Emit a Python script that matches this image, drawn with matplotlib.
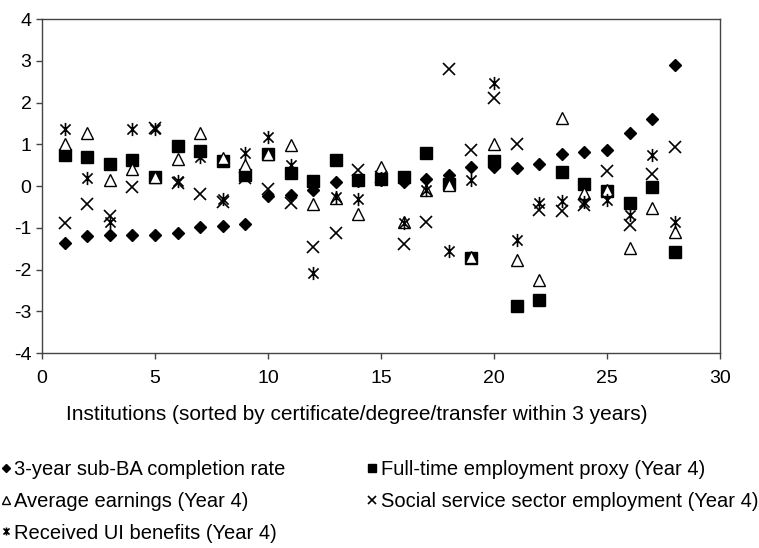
import numpy as np
import matplotlib
matplotlib.use("Agg")
import matplotlib.pyplot as plt
from matplotlib.path import Path

plt.rcParams['font.family'] = ['Liberation Sans', 'DejaVu Sans']
plt.rcParams['axes.unicode_minus'] = False

institutions = list(range(1, 29))

completion = [-1.36, -1.20, -1.17, -1.17, -1.17, -1.13, -0.99, -0.96, -0.92, -0.24,
              -0.22, -0.10, 0.09, 0.13, 0.15, 0.10, 0.17, 0.27, 0.45, 0.45,
              0.44, 0.53, 0.76, 0.81, 0.86, 1.26, 1.60, 2.90]
fulltime = [0.74, 0.69, 0.53, 0.62, 0.21, 0.97, 0.85, 0.60, 0.26, 0.76,
            0.32, 0.13, 0.62, 0.15, 0.18, 0.22, 0.78, 0.05, -1.73, 0.60,
            -2.87, -2.72, 0.34, 0.04, -0.13, -0.40, -0.02, -1.57]
earnings = [1.00, 1.26, 0.14, 0.40, 0.22, 0.64, 1.26, 0.66, 0.50, 0.76,
            0.98, -0.43, -0.28, -0.68, 0.45, -0.85, -0.10, 0.03, -1.70, 1.00,
            -1.77, -2.25, 1.64, -0.17, -0.10, -1.49, -0.53, -1.09]
social = [-0.89, -0.44, -0.72, -0.03, 1.38, 0.08, -0.19, -0.38, 0.20, -0.06,
          -0.41, -1.45, -1.13, 0.38, 0.22, -1.40, -0.87, 2.80, 0.86, 2.10,
          1.00, -0.57, -0.61, -0.45, 0.36, -0.93, 0.28, 0.94]
ui_benefits = [1.36, 0.20, -0.85, 1.36, 1.36, 0.12, 0.69, -0.30, 0.80, 1.18,
               0.50, -2.09, -0.26, -0.32, 0.20, -0.88, -0.10, -1.55, 0.14, 2.47,
               -1.29, -0.40, -0.35, -0.38, -0.34, -0.70, 0.74, -0.85]

labels = ["3-year sub-BA completion rate",
          "Full-time employment proxy (Year 4)",
          "Average earnings (Year 4)",
          "Social service sector employment (Year 4)",
          "Received UI benefits (Year 4)"]

# X with a vertical bar through it
star = Path([(-1, -1), (1, 1), (-1, 1), (1, -1), (0, -1.3), (0, 1.3)],
            [Path.MOVETO, Path.LINETO, Path.MOVETO, Path.LINETO, Path.MOVETO, Path.LINETO])

fig = plt.figure(figsize=(7.59, 5.48), dpi=100)
ax = fig.add_axes([0.0553, 0.3558, 0.8933, 0.6095])

h1, = ax.plot(institutions, completion, ls='none', marker='D', ms=6.5, color='black')
h2, = ax.plot(institutions, fulltime, ls='none', marker='s', ms=8.5, color='black')
h3, = ax.plot(institutions, earnings, ls='none', marker='^', ms=9,
              mfc='white', mec='black', mew=1.0)
h4, = ax.plot(institutions, social, ls='none', marker='x', ms=8.5, mec='black', mew=1.2)
h5, = ax.plot(institutions, ui_benefits, ls='none', marker=star, ms=9.5,
              mec='black', mew=1.2, mfc='none')

ax.set_xlim(0, 30)
ax.set_ylim(-4, 4)
ax.set_xticks(range(0, 31, 5))
ax.set_yticks(range(-4, 5))
ax.tick_params(direction='out', length=4, width=1, labelsize=14, color='#444444')
ax.tick_params(axis='x', pad=8)
for s in ax.spines.values():
    s.set_color('#444444')
    s.set_linewidth(1)
ax.set_xlabel("Institutions (sorted by certificate/degree/transfer within 3 years)",
              fontsize=15, labelpad=13, x=0.465)

fig.legend([h1, h3, h5, h2, h4], [labels[0], labels[2], labels[4], labels[1], labels[3]],
           ncol=2, frameon=False, loc='upper left', bbox_to_anchor=(-0.009, 0.175),
           fontsize=14.5, markerscale=0.6, handlelength=0.45, handletextpad=0.2,
           labelspacing=0.63, columnspacing=4.08, borderaxespad=0)

fig.savefig("out.png", dpi=100)
